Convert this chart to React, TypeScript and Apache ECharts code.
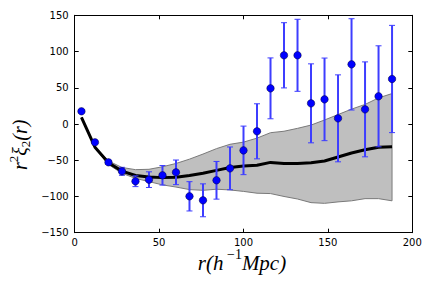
import React, { useEffect, useRef } from "react";
import * as echarts from "echarts";

const rValues = [4, 12, 20, 28, 36, 44, 52, 60, 68, 76, 84, 92, 100, 108, 116, 124, 132, 140, 148, 156, 164, 172, 180, 188];
const xiData = [17.5, -25.3, -52.9, -65.3, -79, -76.8, -70.8, -66.7, -99.8, -105.3, -77.7, -61.2, -36.4, -10.1, 49.2, 94.8, 94.8, 28.5, 34, 7.8, 82.3, 20.2, 38.2, 62.1];
const xiErr = [2, 2, 3, 5.5, 7.4, 10.8, 13.5, 17, 20.2, 22.7, 26, 29.5, 33.5, 38, 42, 45, 49.7, 54.5, 57, 60, 63, 65.5, 69.7, 74];
const modelMean = [9, -32, -53.5, -65, -71, -73, -74, -73.5, -71, -68, -64, -60, -58, -57, -53, -54.5, -54.5, -53.5, -51, -45.5, -40, -35.5, -32, -31.5];
const bandUpper = [9, -32, -51, -60, -63, -62.5, -59, -54.5, -48.5, -41.5, -34, -28, -25, -19.5, -12, -10, -6, -1.5, 5.5, 13, 20.5, 27, 36, 42];
const bandLower = [9, -33, -56, -68, -75, -79.5, -84, -87, -90.5, -91.5, -90, -91, -93, -95.5, -96, -100, -103.5, -108.5, -109.5, -107.5, -106, -103, -103, -106];
const xTicks = [0, 50, 100, 150, 200];
const yTicks = [-150, -100, -50, 0, 50, 100, 150];

const fmt = (v: number) => String(v).replace("-", "\u2212");

export default function App() {
  const ref = useRef<HTMLDivElement>(null);
  useEffect(() => {
    if (!ref.current) return;
    const chart = echarts.init(ref.current, undefined, { renderer: "svg" });
    const tickFont = { fontFamily: "DejaVu Sans", fontSize: 10, color: "#000" };
    const axisCommon = {
      type: "value" as const,
      axisLine: { show: true, onZero: false, lineStyle: { color: "#000", width: 1 } },
      axisTick: { show: true, inside: true, length: 4, lineStyle: { color: "#000", width: 1 } },
      splitLine: { show: false },
    };
    const mathFont = "Liberation Serif";
    chart.setOption({
      animation: false,
      backgroundColor: "#fff",
      grid: { left: 74.7, right: 19.7, top: 15.3, bottom: 55.3 },
      xAxis: [
        {
          ...axisCommon,
          position: "bottom",
          min: xTicks[0],
          max: xTicks[xTicks.length - 1],
          interval: 50,
          axisLabel: { ...tickFont, margin: 5, formatter: fmt },
        },
        {
          ...axisCommon,
          position: "top",
          min: xTicks[0],
          max: xTicks[xTicks.length - 1],
          interval: 50,
          axisLabel: { show: false },
        },
      ],
      yAxis: [
        {
          ...axisCommon,
          position: "left",
          min: yTicks[0],
          max: yTicks[yTicks.length - 1],
          interval: 50,
          axisLabel: { ...tickFont, margin: 6, formatter: fmt },
        },
        {
          ...axisCommon,
          position: "right",
          min: yTicks[0],
          max: yTicks[yTicks.length - 1],
          interval: 50,
          axisLabel: { show: false },
        },
      ],
      series: [
        {
          type: "custom",
          z: 1,
          silent: true,
          data: [[rValues[0], bandLower[0]]],
          renderItem: (_params: any, api: any) => {
            const pts: number[][] = [];
            for (let i = 0; i < rValues.length; i++) pts.push(api.coord([rValues[i], bandUpper[i]]));
            for (let i = rValues.length - 1; i >= 0; i--) pts.push(api.coord([rValues[i], bandLower[i]]));
            return {
              type: "polygon",
              shape: { points: pts },
              style: { fill: "#bfbfbf", stroke: "#7a7a7a", lineWidth: 1 },
            };
          },
        },
        {
          type: "line",
          z: 2,
          data: rValues.map((r, i) => [r, modelMean[i]]),
          showSymbol: false,
          symbol: "none",
          lineStyle: { color: "#000", width: 3 },
        },
        {
          type: "custom",
          z: 3,
          data: rValues.map((r, i) => [r, xiData[i] - xiErr[i], xiData[i] + xiErr[i]]),
          encode: { x: 0, y: [1, 2] },
          renderItem: (_params: any, api: any) => {
            const x = api.value(0);
            const lo = api.coord([x, api.value(1)]);
            const hi = api.coord([x, api.value(2)]);
            const hw = 3;
            const color = "#3d3dff";
            return {
              type: "group",
              children: [
                { type: "line", shape: { x1: lo[0], y1: lo[1], x2: hi[0], y2: hi[1] }, style: { stroke: color, lineWidth: 2 } },
                { type: "line", shape: { x1: lo[0] - hw, y1: lo[1], x2: lo[0] + hw, y2: lo[1] }, style: { stroke: color, lineWidth: 1 } },
                { type: "line", shape: { x1: hi[0] - hw, y1: hi[1], x2: hi[0] + hw, y2: hi[1] }, style: { stroke: color, lineWidth: 1 } },
              ],
            };
          },
        },
        {
          type: "scatter",
          z: 4,
          data: rValues.map((r, i) => [r, xiData[i]]),
          symbol: "circle",
          symbolSize: 7.5,
          itemStyle: { color: "#0000ff", borderColor: "#000033", borderWidth: 0.5, opacity: 1 },
        },
      ],
      graphic: [
        {
          type: "text",
          x: 242,
          y: 247,
          style: {
            text: "{m|r(h}{s| \u22121}{m|Mpc)}",
            align: "center",
            textAlign: "center",
            rich: {
              m: { fontFamily: mathFont, fontStyle: "italic", fontSize: 21, lineHeight: 26, verticalAlign: "bottom", fill: "#000" },
              s: { fontFamily: mathFont, fontSize: 14, lineHeight: 26, verticalAlign: "top", fill: "#000" },
            },
          },
        },
        {
          type: "text",
          x: 7,
          y: 170,
          rotation: Math.PI / 2,
          style: {
            text: "{m|r}{s|2}{m|\u03be}{b|2}{m|(r)}",
            rich: {
              m: { fontFamily: mathFont, fontStyle: "italic", fontSize: 20, lineHeight: 25, verticalAlign: "middle", fill: "#000" },
              s: { fontFamily: mathFont, fontSize: 13, lineHeight: 25, verticalAlign: "top", fill: "#000" },
              b: { fontFamily: mathFont, fontSize: 13, lineHeight: 25, verticalAlign: "bottom", fill: "#000" },
            },
          },
        },
      ],
    });
    return () => chart.dispose();
  }, []);
  return <div ref={ref} style={{ width: 432, height: 288, position: "absolute", left: 0, top: 0 }} />;
}
